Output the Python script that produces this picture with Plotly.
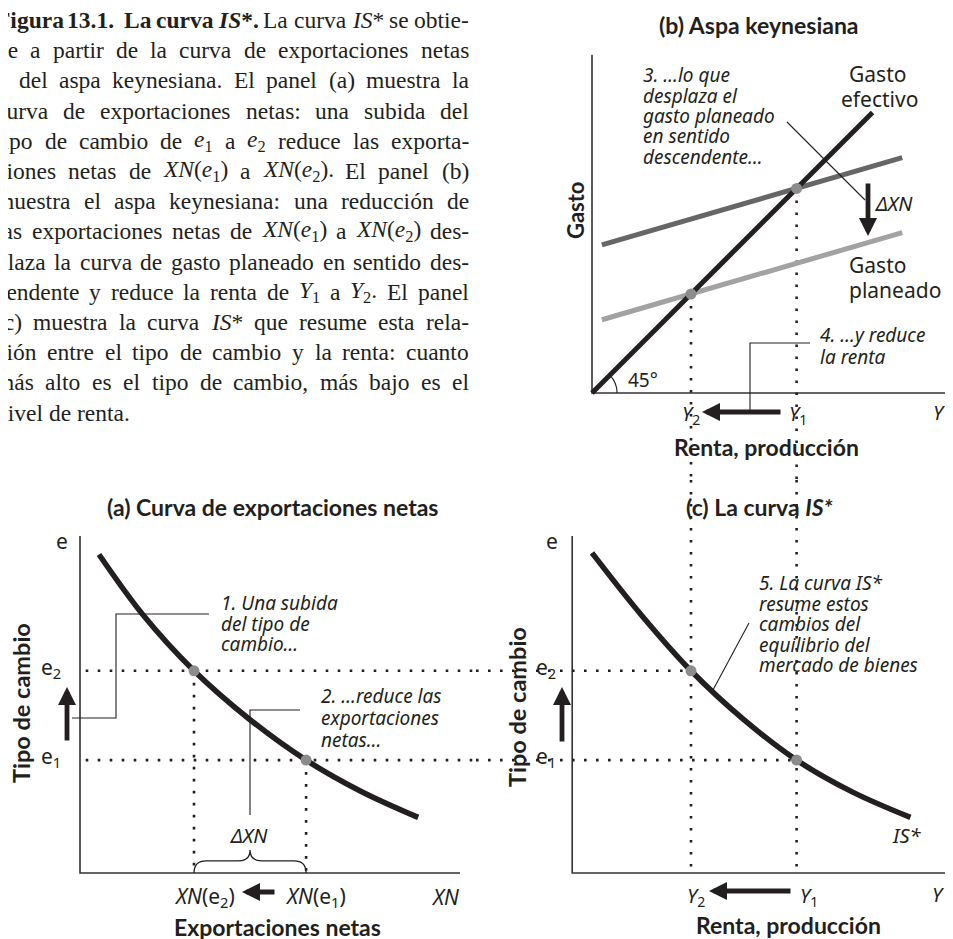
import re
import plotly.graph_objects as go

W, H = 953, 939
OFF = 8  # the page body keeps an 8px margin round the figure
INK = "#231f20"
BOLD = "Lato"
SANS = "Noto Sans"
SERIF = "Liberation Serif"

# ---------------- data (diagram units) ----------------
# (a) net exports curve: XN against the exchange rate e
nx_xn = [0.5, 1.65, 3.0, 4.45, 5.95, 7.4, 8.9]
nx_e = [9.45, 7.67, 6.0, 4.57, 3.35, 2.42, 1.65]
# (c) IS* curve: income Y against e
is_y = [0.0, 1.5, 3.0, 4.6, 6.2, 7.9, 9.65]
is_e = [9.5, 7.65, 6.0, 4.55, 3.35, 2.4, 1.65]
# (b) keynesian cross: 45 degree line and the two planned-expenditure lines
cross_y = [0.0, 8.5]
cross_g = [0.0, 8.5]
plan_y = [0.3, 9.4]
plan1_g = [4.49, 7.13]
plan2_g = [2.22, 4.86]
# equilibria, index 0 -> e1 / XN(e1) / Y1, index 1 -> e2 / XN(e2) / Y2
e_lvls = [3.35, 6.0]
xn_lvls = [5.95, 3.0]
y_lvls = [6.2, 3.0]

# axis extents of the drawn frames
a_frame_x = [0, 0, 10]
a_frame_y = [10, 0, 0]
c_frame_x = [-0.6, -0.6, 11.5]
c_frame_y = [10, 0, 0]
b_frame_x = [0, 0, 11.5]
b_frame_y = [10.25, 0, 0]

paragraph = [
    "Figura 13.1. La curva <i>IS</i>*. La curva <i>IS</i>* se obtie-",
    "ne a partir de la curva de exportaciones netas",
    "y del aspa keynesiana. El panel (a) muestra la",
    "curva de exportaciones netas: una subida del",
    "tipo de cambio de <i>e</i><sub>1</sub> a <i>e</i><sub>2</sub> reduce las exporta-",
    "ciones netas de <i>XN</i>(<i>e</i><sub>1</sub>) a <i>XN</i>(<i>e</i><sub>2</sub>). El panel (b)",
    "muestra el aspa keynesiana: una reducción de",
    "las exportaciones netas de <i>XN</i>(<i>e</i><sub>1</sub>) a <i>XN</i>(<i>e</i><sub>2</sub>) des-",
    "plaza la curva de gasto planeado en sentido des-",
    "cendente y reduce la renta de <i>Y</i><sub>1</sub> a <i>Y</i><sub>2</sub>. El panel",
    "(c) muestra la curva <i>IS</i>* que resume esta rela-",
    "ción entre el tipo de cambio y la renta: cuanto",
    "más alto es el tipo de cambio, más bajo es el",
    "nivel de renta.",
]
bold_lead = 5  # words of the first line set in bold
note1 = ["1. Una subida", "del tipo de", "cambio…"]
note2 = ["2. …reduce las", "exportaciones", "netas…"]
note3 = ["3. …lo que", "desplaza el", "gasto planeado", "en sentido", "descendente…"]
note4 = ["4. …y reduce", "la renta"]
note5 = ["5. La curva IS*", "resume estos", "cambios del", "equilibrio del", "mercado de bienes"]


# ---------------- layout helpers (pixels of the 953x939 page) ----------------
def px(x):
    return (x - OFF) / W


def py(y):
    return 1 - (y - OFF) / H


def xrange_of(p0, p1, origin, scale):
    return [(p0 - origin) / scale, (p1 - origin) / scale]


def yrange_of(pbottom, ptop, origin, scale):
    return [(origin - pbottom) / scale, (origin - ptop) / scale]


annotations = []
shapes = []


def txt(s, x, y, size=20, family=SANS, xanchor="center", angle=0, italic=False):
    if italic:
        s = "<i>" + s + "</i>"
    annotations.append(dict(text=s, x=px(x), y=py(y), xref="paper", yref="paper",
                            showarrow=False, xanchor=xanchor, yanchor="middle",
                            textangle=angle, borderpad=0,
                            font=dict(family=family, size=size, color=INK)))


def level_label(s, e, x_right):
    annotations.append(dict(text=s, x=px(x_right), y=e, xref="paper", yref="y",
                            showarrow=False, xanchor="right", yanchor="middle", yshift=3,
                            font=dict(family=SANS, size=21, color=INK)))


def arrow(hx, hy, tx, ty):
    annotations.append(dict(text="", x=px(hx), y=py(hy), xref="paper", yref="paper",
                            ax=tx - hx, ay=ty - hy, axref="pixel", ayref="pixel",
                            showarrow=True, arrowhead=2, arrowsize=0.75,
                            arrowwidth=4.8, arrowcolor=INK))


def leader(pts):
    path = "M " + " L ".join(f"{px(x):.5f},{py(y):.5f}" for x, y in pts)
    shapes.append(dict(type="path", path=path, xref="paper", yref="paper",
                       line=dict(color=INK, width=1.1)))


# Times / Liberation Serif advance widths (1/1000 em) for justifying the caption
TIMES = dict(zip("abcdefghijklmnopqrstuvwxyz",
                 [444, 500, 444, 500, 444, 333, 500, 500, 278, 278, 500, 278, 778,
                  500, 500, 500, 500, 333, 389, 278, 500, 500, 722, 500, 500, 444]))
TIMES.update(dict(zip("ABCDEFGHIJKLMNOPQRSTUVWXYZ",
                      [722, 667, 667, 722, 611, 556, 722, 722, 333, 389, 722, 611, 889,
                       722, 722, 556, 722, 667, 556, 611, 722, 722, 944, 722, 722, 611])))
TIMES.update({".": 250, ",": 250, ":": 278, "(": 333, ")": 333, "-": 333, "*": 500,
              "ó": 500, "á": 444, "é": 444, "í": 278, "ú": 500})
TIMES_IT = {"X": 611, "N": 667, "Y": 556, "S": 500, "I": 333, "e": 444}


def word_width(tok, size):
    w, scale, italic = 0.0, 1.0, False
    for part in re.split(r"(<[^>]+>)", tok):
        if part.startswith("<"):
            if part == "<sub>":
                scale = 0.7
            elif part == "</sub>":
                scale = 1.0
            elif part == "<i>":
                italic = True
            elif part == "</i>":
                italic = False
            continue
        for ch in part:
            cw = TIMES_IT.get(ch) if italic else None
            w += (cw or TIMES.get(ch, 500)) * scale
    return w / 1000 * size * (1.07 if "<b>" in tok else 1.0)


fig = go.Figure()


def line(x, y, xa, ya, color=INK, width=5, dash=None, shape="linear"):
    fig.add_trace(go.Scatter(x=x, y=y, xaxis=xa, yaxis=ya, mode="lines",
                             line=dict(color=color, width=width, dash=dash, shape=shape),
                             hoverinfo="skip", showlegend=False))


def dots(x, y, xa, ya):
    line(x, y, xa, ya, color=INK, width=2.6, dash="2.6px,9.4px")


# axis geometry
XR = xrange_of(OFF, 476, 80, 38)            # XN, panel (a)
X2R = xrange_of(476, W + OFF, 592, 33)      # Y, panels (b) and (c)
YR = yrange_of(H + OFF, 480, 873, 33.7)     # e, panels (a) and (c)
Y2R = yrange_of(480, OFF, 393, 33)          # Gasto, panel (b)

# frames
line(a_frame_x, a_frame_y, "x", "y", color="#333333", width=1.6)
line(c_frame_x, c_frame_y, "x2", "y", color="#333333", width=1.6)
line(b_frame_x, b_frame_y, "x2", "y2", color="#333333", width=1.6)

# dotted guides
for e, yv, xn in zip(e_lvls, y_lvls, xn_lvls):
    dots([0.15, XR[1]], [e, e], "x", "y")
    dots([X2R[0], yv], [e, e], "x2", "y")
    dots([xn, xn], [e, 0], "x", "y")
    dots([yv, yv], [yv, Y2R[0]], "x2", "y2")
    dots([yv, yv], [YR[1], 0], "x2", "y")

# curves
line(nx_xn, nx_e, "x", "y", width=5.5, shape="spline")
line(is_y, is_e, "x2", "y", width=5.5, shape="spline")
line(plan_y, plan1_g, "x2", "y2", color="#666666", width=5)
line(plan_y, plan2_g, "x2", "y2", color="#a2a2a2", width=5)
line(cross_y, cross_g, "x2", "y2", width=5)

# equilibrium points
pt = dict(mode="markers", marker=dict(color="#8c8c8c", size=11), hoverinfo="skip", showlegend=False)
fig.add_trace(go.Scatter(x=xn_lvls, y=e_lvls, xaxis="x", yaxis="y", **pt))
fig.add_trace(go.Scatter(x=y_lvls, y=e_lvls, xaxis="x2", yaxis="y", **pt))
fig.add_trace(go.Scatter(x=y_lvls, y=y_lvls, xaxis="x2", yaxis="y2", **pt))

# brace under delta XN (panel a) and 45 degree arc (panel b)
b0, b1 = xn_lvls[1], xn_lvls[0]
mid = (b0 + b1) / 2
shapes.append(dict(type="path", xref="x", yref="y", line=dict(color=INK, width=1.3),
                   path=(f"M {b0},0 Q {b0},0.36 {b0 + 0.32},0.36 L {mid - 0.3},0.36 "
                         f"Q {mid},0.36 {mid},0.68 Q {mid},0.36 {mid + 0.3},0.36 "
                         f"L {b1 - 0.32},0.36 Q {b1},0.36 {b1},0")))
shapes.append(dict(type="path", xref="x2", yref="y2", line=dict(color=INK, width=1.1),
                   path="M 0.76,0 Q 0.76,0.315 0.54,0.54"))

# ---------------- caption, justified word by word ----------------
PSIZE = 23.5
X_LEFT, X_RIGHT = -5, 468
for i, s in enumerate(paragraph):
    toks = s.split(" ")
    if i == 0:
        toks = ["<b>" + t + "</b>" if j < bold_lead else t for j, t in enumerate(toks)]
    widths = [word_width(t, PSIZE) for t in toks]
    if i < len(paragraph) - 1:
        gap = (X_RIGHT - X_LEFT - sum(widths)) / (len(toks) - 1)
    else:
        gap = 0.25 * PSIZE
    x = X_LEFT
    for t, w in zip(toks, widths):
        annotations.append(dict(text=t, x=px(x), y=py(20 + 30.2 * i), xref="paper", yref="paper",
                                showarrow=False, xanchor="left", yanchor="middle", borderpad=0,
                                font=dict(family=SERIF, size=PSIZE, color=INK)))
        x += w + gap

# panel (a)
txt("<b>(a) Curva de exportaciones netas</b>", 272, 507, size=23, family=BOLD)
txt("e", 62, 541, size=21)
level_label("e<sub>2</sub>", e_lvls[1], 63)
level_label("e<sub>1</sub>", e_lvls[0], 63)
txt("<b>Tipo de cambio</b>", 21, 703, size=23.5, family=BOLD, angle=-90)
for i, s in enumerate(note1):
    txt(s, 220, 603 + 20.5 * i, size=19, xanchor="left", italic=True)
for i, s in enumerate(note2):
    txt(s, 320, 696 + 22 * i, size=19, xanchor="left", italic=True)
txt("ΔXN", 249, 835, size=20, italic=True)
txt("<i>XN</i>(e<sub>2</sub>)", 204, 897, size=21)
txt("<i>XN</i>(e<sub>1</sub>)", 315, 897, size=21)
txt("XN", 445, 897, size=21, italic=True)
txt("<b>Exportaciones netas</b>", 277, 927, size=23, family=BOLD)

# panel (b)
txt("<b>(b) Aspa keynesiana</b>", 759, 25, size=23, family=BOLD)
txt("<b>Gasto</b>", 575, 210, size=22, family=BOLD, angle=-90)
for i, s in enumerate(note3):
    txt(s, 642, 75 + 20.5 * i, size=19, xanchor="left", italic=True)
txt("Gasto", 877, 74, size=21)
txt("efectivo", 879, 99, size=21)
txt("ΔXN", 874, 203, size=20, xanchor="left", italic=True)
txt("Gasto", 848, 265, size=21, xanchor="left")
txt("planeado", 848, 290, size=21, xanchor="left")
for i, s in enumerate(note4):
    txt(s, 819, 335 + 22 * i, size=19, xanchor="left", italic=True)
txt("45°", 643, 380, size=19)
txt("<i>Y</i><sub>2</sub>", 691, 414, size=20)
txt("<i>Y</i><sub>1</sub>", 798, 414, size=20)
txt("Y", 939, 412, size=20, italic=True)
txt("<b>Renta, producción</b>", 766, 447, size=23, family=BOLD)

# panel (c)
txt("<b>(c) La curva <i>IS*</i></b>", 759, 507, size=23, family=BOLD)
txt("e", 552, 541, size=21)
level_label("e<sub>2</sub>", e_lvls[1], 558)
level_label("e<sub>1</sub>", e_lvls[0], 558)
txt("<b>Tipo de cambio</b>", 517, 707, size=23.5, family=BOLD, angle=-90)
for i, s in enumerate(note5):
    txt(s, 758, 583 + 20.5 * i, size=19, xanchor="left", italic=True)
txt("IS*", 907, 835, size=20, italic=True)
txt("<i>Y</i><sub>2</sub>", 696, 896, size=20)
txt("<i>Y</i><sub>1</sub>", 809, 896, size=20)
txt("Y", 938, 894, size=20, italic=True)
txt("<b>Renta, producción</b>", 788, 925, size=23, family=BOLD)

# arrows and leader lines
arrow(67, 687, 67, 742)
arrow(562, 687, 562, 743)
arrow(868, 236, 868, 182)
arrow(702, 412, 782, 412)
arrow(709, 891, 792, 891)
arrow(242, 892, 276, 892)
leader([(209, 614), (116, 614), (116, 718), (72, 718)])
leader([(300, 710), (250, 710), (250, 815)])
leader([(787, 122), (865, 200)])
leader([(810, 343), (750, 343), (750, 410)])
leader([(749, 623), (713, 690)])

ax_style = dict(visible=False, showgrid=False, zeroline=False, fixedrange=True)
fig.update_layout(
    width=W, height=H, autosize=False,
    margin=dict(l=0, r=0, t=0, b=0),
    paper_bgcolor="white", plot_bgcolor="white",
    showlegend=False,
    xaxis=dict(domain=[0, px(476)], range=XR, anchor="y", **ax_style),
    xaxis2=dict(domain=[px(476), 1], range=X2R, anchor="y", **ax_style),
    yaxis=dict(domain=[0, py(480)], range=YR, anchor="x", **ax_style),
    yaxis2=dict(domain=[py(480), 1], range=Y2R, anchor="x2", **ax_style),
    annotations=annotations,
    shapes=shapes,
)

fig.write_html("out.html")
